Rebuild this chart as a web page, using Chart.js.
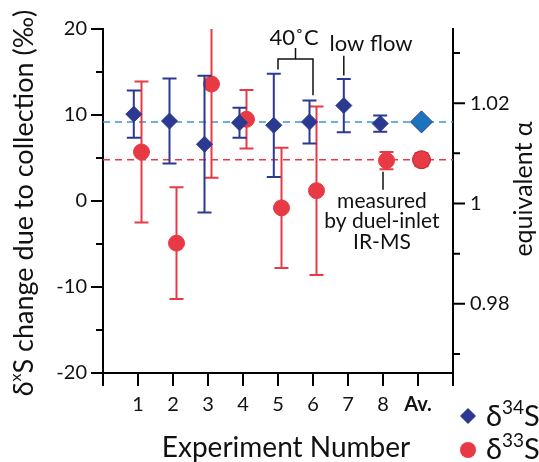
<!DOCTYPE html>
<html>
<head>
  <title>Sulfur isotope change by experiment</title>
  <script src="https://cdn.jsdelivr.net/npm/chart.js"></script>
  <style>
    body {
      margin: 0;
      background: #fff;
    }
    #wrap {
      width: 539px;
      height: 462px;
    }
  </style>
</head>
<body>
  <div id="wrap">
    <canvas id="isoChart" width="539" height="462"></canvas>
  </div>

  <script>
    // tick labels along the bottom, one per whole number 0..10
    const xTickLabels = ['', '1', '2', '3', '4', '5', '6', '7', '8', 'Av.', ''];

    // delta-34S, each point set a little left of its experiment number
    const x34 = [0.88, 1.9, 2.9, 3.9, 4.88, 5.9, 6.88, 7.92, 9.1];
    const d34 = [10.1, 9.3, 6.6, 9.1, 8.8, 9.2, 11.1, 9.0, 9.2];
    const err34 = [2.75, 4.95, 7.95, 1.75, 6.0, 2.5, 3.1, 0.95, 0.4];

    // delta-33S, a little right (none for experiment 7)
    const x33 = [1.1, 2.1, 3.1, 4.1, 5.1, 6.1, 8.1, 9.1];
    const d33 = [5.7, -4.9, 13.6, 9.5, -0.8, 1.2, 4.7, 4.8];
    const err33 = [8.2, 6.5, 10.9, 3.4, 7.0, 9.8, 1.0, 0.75];

    // averages, drawn as dashed lines
    const mean34 = 9.2;
    const mean33 = 4.8;

    const NAVY = '#2b3990';
    const LIGHTBLUE = '#1c75bc';
    const RED = '#e83a45';
    const DARKRED = '#b8222d';
    const FONT = 'Lato, "Open Sans", sans-serif';

    Chart.defaults.font.family = FONT;
    Chart.defaults.color = '#111';

    function pts(xs, ys) {
      return xs.map((x, i) => ({ x: x, y: ys[i] }));
    }
    const lastIdx34 = d34.length - 1;
    const lastIdx33 = d33.length - 1;

    // draw text with superscript pieces, parts = [[text, isSup], ...]
    function richText(ctx, parts, x, y, size, align, supScale) {
      const big = size + 'px ' + FONT;
      const small = Math.round(size * (supScale || 0.6)) + 'px ' + FONT;
      let w = 0;
      parts.forEach(p => {
        ctx.font = p[1] ? small : big;
        w += ctx.measureText(p[0]).width;
      });
      let cx = align === 'center' ? x - w / 2 : x;
      ctx.textAlign = 'left';
      ctx.textBaseline = 'middle';
      parts.forEach(p => {
        ctx.font = p[1] ? small : big;
        ctx.fillText(p[0], cx, p[1] ? y - size * 0.3 : y);
        cx += ctx.measureText(p[0]).width;
      });
    }

    const errorBars = {
      id: 'errorBars',
      beforeDatasetDraw(chart, args) {
        const ds = chart.data.datasets[args.index];
        if (!ds.errors) return;
        const ctx = chart.ctx;
        const a = chart.chartArea;
        const x = chart.scales.x, y = chart.scales.y;
        ctx.save();
        ctx.beginPath();
        ctx.rect(a.left, a.top, a.right - a.left, a.bottom - a.top);
        ctx.clip();
        ctx.strokeStyle = ds.barColor;
        ctx.lineWidth = 2;
        ds.data.forEach((p, i) => {
          const e = ds.errors[i];
          const px = x.getPixelForValue(p.x);
          const top = y.getPixelForValue(p.y + e);
          const bot = y.getPixelForValue(p.y - e);
          ctx.beginPath();
          ctx.moveTo(px, top); ctx.lineTo(px, bot);
          ctx.moveTo(px - 7, top); ctx.lineTo(px + 7, top);
          ctx.moveTo(px - 7, bot); ctx.lineTo(px + 7, bot);
          ctx.stroke();
        });
        ctx.restore();
      }
    };

    const axisTicks = {
      id: 'axisTicks',
      afterDraw(chart) {
        const ctx = chart.ctx;
        const { x, y, y2 } = chart.scales;
        ctx.save();
        ctx.strokeStyle = '#000';
        ctx.lineWidth = 2;
        ctx.beginPath();
        x.ticks.forEach(t => {
          const px = x.getPixelForValue(t.value);
          ctx.moveTo(px, x.top);
          ctx.lineTo(px, x.top + 13);
        });
        y.ticks.forEach(t => {
          const py = y.getPixelForValue(t.value);
          ctx.moveTo(y.right, py);
          ctx.lineTo(y.right - (t.value % 10 === 0 ? 12 : 7), py);
        });
        y2.ticks.forEach(t => {
          const py = y2.getPixelForValue(t.value);
          const major = Math.round(t.value * 100) % 2 === 0;
          ctx.moveTo(y2.left, py);
          ctx.lineTo(y2.left + (major ? 12 : 7), py);
        });
        ctx.stroke();
        ctx.restore();
      }
    };

    const labels = {
      id: 'labels',
      afterDraw(chart) {
        const ctx = chart.ctx;
        const { x, y } = chart.scales;
        const X = v => x.getPixelForValue(v);
        const Y = v => y.getPixelForValue(v);
        ctx.save();
        ctx.fillStyle = '#111';
        ctx.strokeStyle = '#111';
        ctx.lineWidth = 1.5;

        // axis titles
        ctx.save();
        ctx.translate(24, 203);
        ctx.rotate(-Math.PI / 2);
        richText(ctx, [['δ', false], ['x', true], ['S change due to collection (‰)', false]], 0, 0, 27, 'center');
        ctx.restore();

        ctx.save();
        ctx.translate(524, 189);
        ctx.rotate(-Math.PI / 2);
        richText(ctx, [['equivalent α', false]], 0, 0, 25, 'center');
        ctx.restore();

        richText(ctx, [['Experiment Number', false]], 286, 448, 28, 'center');

        // 40 C bracket
        ctx.beginPath();
        ctx.moveTo(X(5), Y(15.3)); ctx.lineTo(X(5), Y(16.5));
        ctx.lineTo(X(6), Y(16.5)); ctx.lineTo(X(6), Y(12.3));
        ctx.moveTo(X(5.5), Y(16.5)); ctx.lineTo(X(5.5), Y(17.8));
        // low flow stem
        ctx.moveTo(X(6.88), Y(16.9)); ctx.lineTo(X(6.88), Y(14.6));
        // measured stem
        ctx.moveTo(X(8), Y(3.4)); ctx.lineTo(X(8), Y(1.3));
        ctx.stroke();

        richText(ctx, [['40˚C', false]], X(5.46), Y(19.0), 22, 'center');
        richText(ctx, [['low flow', false]], X(7.66), Y(18.3), 22, 'center');
        richText(ctx, [['measured', false]], X(7.97), Y(0), 21, 'center');
        richText(ctx, [['by duel-inlet', false]], X(7.97), Y(-2.4), 21, 'center');
        richText(ctx, [['IR-MS', false]], X(7.97), Y(-4.8), 21, 'center');

        // legend
        ctx.fillStyle = NAVY;
        ctx.beginPath();
        ctx.moveTo(468, 408); ctx.lineTo(476, 416); ctx.lineTo(468, 424); ctx.lineTo(460, 416);
        ctx.closePath();
        ctx.fill();
        ctx.fillStyle = RED;
        ctx.beginPath();
        ctx.arc(468, 450, 8, 0, Math.PI * 2);
        ctx.fill();
        ctx.fillStyle = '#111';
        richText(ctx, [['δ', false], ['34', true], ['S', false]], 486, 417, 29, 'left', 0.65);
        richText(ctx, [['δ', false], ['33', true], ['S', false]], 486, 450, 29, 'left', 0.65);
        ctx.restore();
      }
    };

    const ctx = document.getElementById('isoChart').getContext('2d');
    const chart = new Chart(ctx, {
      type: 'scatter',
      data: {
        datasets: [
          {
            label: 'δ34S',
            data: pts(x34, d34),
            errors: err34,
            barColor: NAVY,
            pointStyle: 'rectRot',
            pointRadius: c => c.dataIndex === lastIdx34 ? 11 : 8,
            pointBackgroundColor: c => c.dataIndex === lastIdx34 ? LIGHTBLUE : NAVY,
            pointBorderColor: NAVY,
            pointBorderWidth: 1,
            showLine: false,
            order: 0
          },
          {
            label: 'δ33S',
            data: pts(x33, d33),
            errors: err33,
            barColor: RED,
            pointStyle: 'circle',
            pointRadius: c => c.dataIndex === lastIdx33 ? 9 : 8,
            pointBackgroundColor: RED,
            pointBorderColor: c => c.dataIndex === lastIdx33 ? DARKRED : RED,
            pointBorderWidth: 1,
            showLine: false,
            order: 1
          },
          {
            label: 'mean δ34S',
            data: [{ x: 0, y: mean34 }, { x: 10, y: mean34 }],
            showLine: true,
            borderColor: '#3f94d6',
            borderWidth: 1.5,
            borderDash: [7, 5],
            pointRadius: 0,
            order: 10
          },
          {
            label: 'mean δ33S',
            data: [{ x: 0, y: mean33 }, { x: 10, y: mean33 }],
            showLine: true,
            borderColor: RED,
            borderWidth: 1.5,
            borderDash: [7, 5],
            pointRadius: 0,
            order: 11
          }
        ]
      },
      options: {
        responsive: false,
        animation: false,
        layout: { padding: { top: 23, left: 0, right: 0, bottom: 0 } },
        plugins: {
          legend: { display: false },
          tooltip: { enabled: false }
        },
        scales: {
          x: {
            type: 'linear',
            min: 0,
            max: 10,
            afterFit: s => { s.height = 89; },
            grid: { display: false, drawTicks: false },
            border: { display: true, color: '#000', width: 2 },
            ticks: {
              stepSize: 1,
              autoSkip: false,
              maxRotation: 0,
              padding: 20,
              color: '#111',
              font: c => ({ size: 20, weight: c.tick && c.tick.value === 9 ? 'bold' : 'normal' }),
              callback: v => xTickLabels[v]
            }
          },
          y: {
            position: 'left',
            min: -20,
            max: 20,
            afterFit: s => { s.width = 103; },
            grid: { display: false, drawTicks: false },
            border: { display: true, color: '#000', width: 2 },
            ticks: {
              stepSize: 5,
              autoSkip: false,
              padding: 16,
              color: '#111',
              font: { size: 20 },
              callback: v => (v % 10 === 0 ? String(v) : '')
            }
          },
          y2: {
            position: 'right',
            min: 0.9662,
            max: 1.0348,
            afterFit: s => { s.width = 86; },
            grid: { display: false, drawTicks: false },
            border: { display: true, color: '#000', width: 2 },
            ticks: {
              stepSize: 0.01,
              includeBounds: false,
              autoSkip: false,
              padding: 17,
              color: '#111',
              font: { size: 20 },
              callback: v => (Math.round(v * 100) % 2 === 0 ? String(+v.toFixed(2)) : '')
            }
          }
        }
      },
      plugins: [errorBars, axisTicks, labels]
    });
  </script>
</body>
</html>
